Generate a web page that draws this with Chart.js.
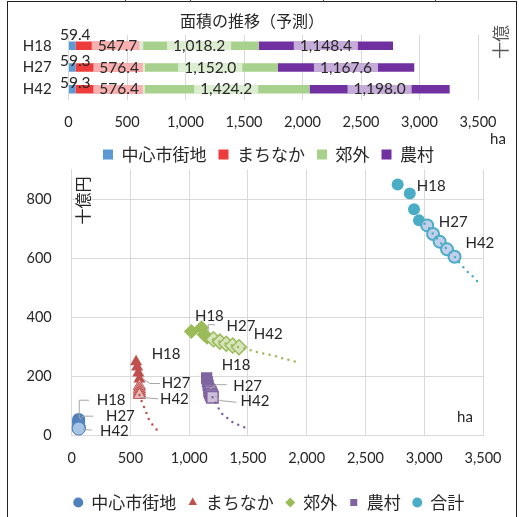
<!DOCTYPE html>
<html lang="ja">
<head>
<meta charset="utf-8">
<title>面積の推移（予測）</title>
<script src="https://cdn.jsdelivr.net/npm/chart.js@4.4.1/dist/chart.umd.min.js"></script>
<style>
    html, body { margin: 0; padding: 0; background: #fff; overflow: hidden; }
    #frame { position: absolute; left: 7px; top: 1px; width: 508px; height: 530px;
             border: 1.5px solid #222; border-bottom: none; }
    .tick { position: absolute; top: 0; width: 1px; height: 2px; background: #444; }
    #areaChart { position: absolute; left: 0; top: 0; }
    #costChart { position: absolute; left: 0; top: 160px; }
</style>
</head>
<body>
<div id="frame"></div>
<div class="tick" style="left:125px"></div>
<div class="tick" style="left:190px"></div>
<div class="tick" style="left:323px"></div>
<div class="tick" style="left:435px"></div>
<canvas id="areaChart" width="519" height="173"></canvas>
<canvas id="costChart" width="519" height="361"></canvas>
<script>
// 面積 (ha)
const years = ['H18', 'H27', 'H42'];
const areaCentral = [59.4, 59.3, 59.3];
const areaTown = [547.7, 576.4, 576.4];
const areaSuburb = [1018.2, 1152.0, 1424.2];
const areaRural = [1148.4, 1167.6, 1198.0];
const haTicks = [0, 500, 1000, 1500, 2000, 2500, 3000, 3500];
const costTicks = [0, 200, 400, 600, 800];

// 面積(ha) と 十億円 の推移: H18, H21, H24, H27 (実績) / H30 ... H42 (予測)
const centralX = [59.4, 59.4, 59.4, 59.3, 59.3, 59.3, 59.3, 59.3, 59.3];
const centralY = [55, 50, 45, 40, 28, 27, 26, 25, 24];
const townX = [547.7, 557, 567, 576.4, 576.4, 576.4, 576.4, 576.4, 576.4];
const townY = [250, 232, 212, 192, 168, 158, 150, 143, 138];
const suburbX = [1018.2, 1105, 1126, 1152.0, 1206, 1261, 1315, 1370, 1424.2];
const suburbY = [352, 365, 342, 333, 326, 318, 311, 305, 299];
const ruralX = [1148.4, 1155, 1161, 1167.6, 1174, 1180, 1186, 1192, 1198.0];
const ruralY = [195, 182, 170, 160, 152, 146, 140, 135, 130];
const totalX = [2773.7, 2877, 2913, 2955.3, 3025, 3075, 3131, 3194, 3257.9];
const totalY = [849, 819, 766, 728, 711, 682, 656, 630, 605];

// 近似曲線 (点線)
const townTrendX = [576.4, 609, 623, 643, 660, 680, 702, 723, 745];
const townTrendY = [138, 102, 91, 69, 52, 41, 30, 21, 17];
const suburbTrendX = [1152.0, 1206, 1261, 1315, 1370, 1424.2, 1488, 1601, 1714, 1828, 1918];
const suburbTrendY = [333, 326, 318, 311, 305, 299, 293, 280, 271, 258, 249];
const ruralTrendX = [1198.0, 1219, 1233, 1261, 1289, 1332, 1366, 1403, 1440, 1474];
const ruralTrendY = [130, 119, 102, 86, 69, 58, 47, 39, 33, 28];
const totalTrendX = [2955.3, 3025, 3075, 3131, 3194, 3257.9, 3330, 3381, 3421, 3457];
const totalTrendY = [728, 711, 682, 656, 630, 605, 571, 549, 536, 519];

const ACTUAL_POINTS = 4; // H18〜H27 は実績
const textColor = '#262626';
const gridColor = '#D9D9D9';
const latinFont = "Lato, 'Noto Sans CJK JP', sans-serif";
const jpFont = "'Noto Sans CJK JP', sans-serif";

const toXY = (xs, ys) => xs.map((x, i) => ({ x: x, y: ys[i] }));
const setTicks = list => scale => { scale.ticks = list.map(v => ({ value: v })); };

// 凡例を横にずらす
const legendShiftPlugin = {
    id: 'legendShift',
    afterLayout(chart, args, opts) {
        if (chart.legend && opts.dx) {
            chart.legend.left += opts.dx;
            chart.legend.right += opts.dx;
        }
    }
};

// 棒グラフのデータラベル
const barLabelPlugin = {
    id: 'barLabels',
    afterDatasetsDraw(chart) {
        const ctx = chart.ctx;
        ctx.save();
        ctx.font = '15.5px ' + latinFont;
        ctx.textAlign = 'center';
        ctx.textBaseline = 'middle';
        chart.data.datasets.forEach((ds, di) => {
            const shift = ds.labelShift || { dx: 0, dy: [0, 0, 0] };
            chart.getDatasetMeta(di).data.forEach((bar, i) => {
                const text = ds.data[i].toLocaleString('en-US', { minimumFractionDigits: 1, maximumFractionDigits: 1 });
                const cx = (bar.x + bar.base) / 2 + shift.dx;
                if (ds.labelBox) {
                    const w = ctx.measureText(text).width + 12;
                    ctx.fillStyle = 'rgba(255,255,255,0.6)';
                    ctx.fillRect(cx - w / 2, bar.y - bar.height / 2, w, bar.height);
                }
                ctx.fillStyle = textColor;
                ctx.fillText(text, cx, bar.y + shift.dy[i]);
            });
        });
        ctx.restore();
    }
};

// タイトル・単位
const areaTextPlugin = {
    id: 'areaText',
    afterDraw(chart) {
        const ctx = chart.ctx;
        ctx.save();
        ctx.fillStyle = textColor;
        ctx.textAlign = 'center';
        ctx.textBaseline = 'middle';
        ctx.font = '16px ' + jpFont;
        ctx.fillText('面積の推移（予測）', 252, 21);
        ctx.font = '15px ' + latinFont;
        ctx.fillText('ha', 498, 139);
        // 右上に一部だけ見えている軸タイトル
        ctx.beginPath();
        ctx.rect(480, 22, 39, 60);
        ctx.clip();
        ctx.translate(501, 42);
        ctx.rotate(-Math.PI / 2);
        ctx.fillStyle = '#595959';
        ctx.font = '17px ' + jpFont;
        ctx.fillText('十億', 0, 0);
        ctx.restore();
    }
};

new Chart(document.getElementById('areaChart'), {
    type: 'bar',
    data: {
        labels: years,
        datasets: [
            { label: '中心市街地', data: areaCentral, backgroundColor: '#5B9BD5',
              labelShift: { dx: 3, dy: [-11, -7, -6] } },
            { label: 'まちなか', data: areaTown, backgroundColor: '#EE3B3B', labelBox: true,
              labelShift: { dx: 10, dy: [0, 0, 0] } },
            { label: '郊外', data: areaSuburb, backgroundColor: '#A9D18E', labelBox: true },
            { label: '農村', data: areaRural, backgroundColor: '#7030A0', labelBox: true }
        ]
    },
    options: {
        indexAxis: 'y',
        responsive: false,
        animation: false,
        locale: 'en-US',
        layout: { padding: { left: 0, right: 41, top: 35, bottom: 0 } },
        datasets: { bar: { categoryPercentage: 0.39, barPercentage: 1 } },
        scales: {
            x: {
                stacked: true,
                min: 0,
                max: 3500,
                afterBuildTicks: setTicks(haTicks),
                afterFit: s => { s.height = 34; s.paddingLeft = 0; s.paddingRight = 0; },
                ticks: { padding: 13.3, color: textColor, font: { family: latinFont, size: 14.5 } },
                grid: { color: gridColor, drawTicks: false },
                border: { display: false }
            },
            y: {
                stacked: true,
                afterFit: s => { s.width = 68.5; s.paddingTop = 0; s.paddingBottom = 0; },
                ticks: { padding: 16.8, color: textColor, font: { family: latinFont, size: 15 } },
                grid: { display: false, drawTicks: false },
                border: { display: false }
            }
        },
        plugins: {
            legend: {
                position: 'bottom',
                labels: { boxWidth: 10, boxHeight: 10, padding: 12, color: textColor,
                          font: { family: jpFont, size: 17 } }
            },
            legendShift: { dx: 29.5 },
            tooltip: { enabled: false }
        }
    },
    plugins: [legendShiftPlugin, barLabelPlugin, areaTextPlugin]
});

// 散布図の H18 / H27 / H42 ラベル (引き出し線つき)
const pointLabelPlugin = {
    id: 'pointLabels',
    afterDatasetsDraw(chart) {
        const ctx = chart.ctx;
        ctx.save();
        ctx.font = '15px ' + latinFont;
        ctx.textAlign = 'left';
        ctx.textBaseline = 'middle';
        chart.data.datasets.forEach((ds, di) => {
            if (!ds.yearLabels) return;
            const pts = chart.getDatasetMeta(di).data;
            ds.yearLabels.forEach(lb => {
                const p = pts[lb.i];
                if (lb.leader) {
                    ctx.strokeStyle = '#A6A6A6';
                    ctx.lineWidth = 1;
                    ctx.beginPath();
                    lb.leader.forEach(([dx, dy], k) => {
                        if (k === 0) ctx.moveTo(p.x + dx, p.y + dy);
                        else ctx.lineTo(p.x + dx, p.y + dy);
                    });
                    ctx.stroke();
                }
                ctx.fillStyle = textColor;
                ctx.fillText(lb.text, p.x + lb.dx, p.y + lb.dy);
            });
        });
        ctx.restore();
    }
};

const costTextPlugin = {
    id: 'costText',
    afterDraw(chart) {
        const { ctx, chartArea } = chart;
        ctx.save();
        ctx.fillStyle = textColor;
        ctx.textAlign = 'center';
        ctx.textBaseline = 'middle';
        ctx.font = '15px ' + latinFont;
        ctx.fillText('ha', chartArea.right - 18, chartArea.bottom - 19);
        ctx.translate(chartArea.left + 11, chartArea.top + 31);
        ctx.rotate(-Math.PI / 2);
        ctx.font = '16px ' + jpFont;
        ctx.fillText('十億円', 0, 0);
        ctx.restore();
    }
};

function seriesDataset(label, xs, ys, style, yearLabels) {
    return {
        label: label,
        data: toXY(xs, ys),
        order: 1,
        pointStyle: style.shape,
        pointRadius: style.radius,
        pointHoverRadius: style.radius,
        pointBackgroundColor: c => c.dataIndex < ACTUAL_POINTS ? style.color : style.light,
        pointBorderColor: style.color,
        pointBorderWidth: c => c.dataIndex < ACTUAL_POINTS ? 0 : style.border,
        yearLabels: yearLabels
    };
}

function trendDataset(xs, ys, color) {
    return {
        label: '',
        trend: true,
        data: toXY(xs, ys),
        order: 0,
        showLine: true,
        pointRadius: 0,
        borderColor: color,
        borderWidth: 2.5,
        borderDash: [0, 6.5],
        borderCapStyle: 'round'
    };
}

new Chart(document.getElementById('costChart'), {
    type: 'scatter',
    data: {
        datasets: [
            seriesDataset('中心市街地', centralX, centralY,
                { shape: 'circle', radius: 6.5, color: '#4F81BD', light: '#A7C3E6', border: 1 },
                [ { i: 0, text: 'H18', dx: 18, dy: -19.2, leader: [[0.6, -1], [0.6, -19.2], [10.3, -19.2]] },
                  { i: 3, text: 'H27', dx: 27.3, dy: -8, leader: [[14.6, -7.7], [4, -7.7], [1.3, -3.7]] },
                  { i: 8, text: 'H42', dx: 21.3, dy: 2.2, leader: [[13, 1.5], [4, 0.8]] } ]),
            seriesDataset('まちなか', townX, townY,
                { shape: 'triangle', radius: 7, color: '#C0504D', light: '#E8BEBD', border: 1 },
                [ { i: 0, text: 'H18', dx: 15.6, dy: -8 },
                  { i: 3, text: 'H27', dx: 22.2, dy: 4.6, leader: [[20.5, 4.6], [10.5, 4.6], [3.8, 0.2]] },
                  { i: 8, text: 'H42', dx: 20.5, dy: 4, leader: [[18.8, 4], [0.5, 2.4]] } ]),
            seriesDataset('郊外', suburbX, suburbY,
                { shape: 'rectRot', radius: 7.5, color: '#9BBB59', light: '#D8E4BE', border: 1.5 },
                [ { i: 0, text: 'H18', dx: 3.6, dy: -15.8 },
                  { i: 3, text: 'H27', dx: 19.5, dy: -11.5, leader: [[7.8, -12.5], [1.1, -12.5], [1.1, -5.8]] },
                  { i: 8, text: 'H42', dx: 14.8, dy: -12.7 } ]),
            seriesDataset('農村', ruralX, ruralY,
                { shape: 'rect', radius: 8, color: '#8064A2', light: '#CCC0DA', border: 1.5 },
                [ { i: 0, text: 'H18', dx: 15, dy: -12.9 },
                  { i: 3, text: 'H27', dx: 24.3, dy: -2.7, leader: [[17.7, -3.7], [7.7, -3.7], [1, 0.6]] },
                  { i: 8, text: 'H42', dx: 28.1, dy: 4.3, leader: [[24, 5], [7.4, 3.3], [2.4, -1.7]] } ]),
            seriesDataset('合計', totalX, totalY,
                { shape: 'circle', radius: 6, color: '#4BACC6', light: '#C3CFEA', border: 2 },
                [ { i: 0, text: 'H18', dx: 19.1, dy: 1.7 },
                  { i: 3, text: 'H27', dx: 19.8, dy: 1.7 },
                  { i: 8, text: 'H42', dx: 10.9, dy: -13.5 } ]),
            trendDataset(townTrendX, townTrendY, '#C0504D'),
            trendDataset(suburbTrendX, suburbTrendY, '#9BBB59'),
            trendDataset(ruralTrendX, ruralTrendY, '#8064A2'),
            trendDataset(totalTrendX, totalTrendY, '#4BACC6')
        ]
    },
    options: {
        responsive: false,
        animation: false,
        locale: 'en-US',
        layout: { padding: { left: 0, right: 36, top: 6, bottom: 0 } },
        scales: {
            x: {
                type: 'linear',
                min: 0,
                max: 3500,
                afterBuildTicks: setTicks(haTicks),
                afterFit: s => { s.height = 46.3; s.paddingLeft = 0; s.paddingRight = 0; },
                ticks: { padding: 13.6, color: textColor, font: { family: latinFont, size: 14.5 } },
                grid: { color: gridColor, drawTicks: false },
                border: { color: gridColor }
            },
            y: {
                min: 0,
                max: 900,
                afterBuildTicks: setTicks(costTicks),
                afterFit: s => { s.width = 71.7; s.paddingTop = 0; s.paddingBottom = 0; },
                ticks: { padding: 20, color: textColor, font: { family: latinFont, size: 14.5 } },
                grid: { color: gridColor, drawTicks: false },
                border: { color: gridColor }
            }
        },
        plugins: {
            legend: {
                position: 'bottom',
                labels: {
                    usePointStyle: true,
                    boxWidth: 9,
                    boxHeight: 7,
                    padding: 12,
                    color: textColor,
                    font: { family: jpFont, size: 17 },
                    filter: (item, data) => !data.datasets[item.datasetIndex].trend
                }
            },
            legendShift: { dx: 27.5 },
            tooltip: { enabled: false }
        }
    },
    plugins: [legendShiftPlugin, pointLabelPlugin, costTextPlugin]
});
</script>
</body>
</html>
